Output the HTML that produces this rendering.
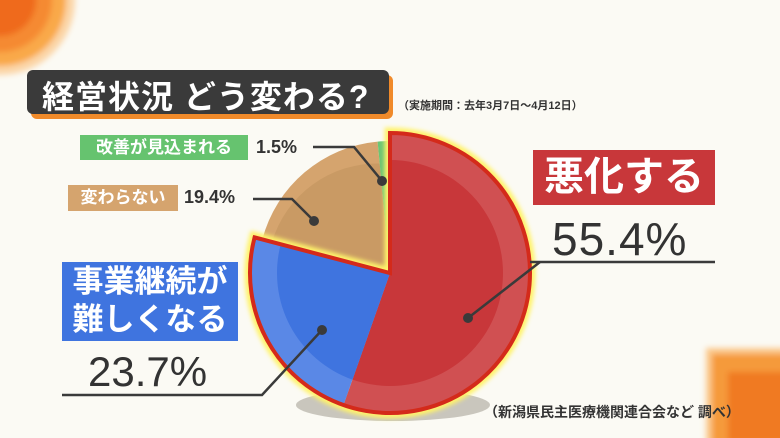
<!DOCTYPE html>
<html><head><meta charset="utf-8"><style>
body{margin:0;width:780px;height:438px;overflow:hidden;background:#fbfaf4;font-family:"Liberation Sans","Noto Sans CJK JP",sans-serif;position:relative}
.a{position:absolute;white-space:nowrap;font-weight:bold}
.box{position:absolute;color:#fff;font-weight:bold;text-align:center;white-space:nowrap}
</style></head><body>
<svg width="780" height="438" style="position:absolute;left:0;top:0">
<defs>
<filter id="gl"><feGaussianBlur stdDeviation="2"/></filter>
<filter id="bl"><feGaussianBlur stdDeviation="3"/></filter>
</defs>
<g filter="url(#bl)">
<circle cx="0" cy="0" r="75" fill="#fbd6a8"/>
<circle cx="0" cy="0" r="66" fill="#f9a94a"/>
<circle cx="0" cy="0" r="52" fill="#f58a30"/>
<circle cx="0" cy="0" r="36" fill="#ef6a1c"/>
<rect x="706" y="348" width="80" height="95" fill="#fbc88a"/>
<rect x="712" y="354" width="75" height="90" fill="#f59a3a"/>
<rect x="728" y="372" width="60" height="70" fill="#f07a22"/>
</g>
<ellipse cx="393" cy="405" rx="97" ry="16" fill="#c9c6bd"/>
<path d="M390,273 L262.3,239.5 A132,132 0 0,1 377.6,141.6 Z" fill="#d5a46e"/>
<path d="M390,273 L272,242 A110,110 0 0,1 379.7,163.5 Z" fill="#c99a64"/>
<path d="M390,273 L377.6,141.6 A132,132 0 0,1 390,141 Z" fill="#6cc573"/>
<path d="M390,273 L390,133 A140,140 0 1,1 254.6,237.4 Z" fill="none" stroke="#fff36a" stroke-width="11" filter="url(#gl)"/>
<path d="M390,273 L390,133 A140,140 0 1,1 343.5,405 Z" fill="#d05052"/>
<path d="M390,273 L390,160 A113,113 0 1,1 352.5,379.6 Z" fill="#c8373a"/>
<path d="M390,273 L343.5,405 A140,140 0 0,1 254.6,237.4 Z" fill="#5a88e6"/>
<path d="M390,273 L352.5,379.6 A113,113 0 0,1 280.7,244.3 Z" fill="#3f74df"/>
<path d="M390,273 L390,133 A140,140 0 1,1 254.6,237.4 Z" fill="none" stroke="#d42a1a" stroke-width="4"/>
<g stroke="#3a3a3a" stroke-width="2.5" fill="none">
<polyline points="313,147 354,147 382,181"/>
<polyline points="253,199 292,199 314,221"/>
<polyline points="530,262 715,262"/><polyline points="540,262 468,318"/>
<polyline points="62,395 262,395 322,330"/>
</g>
<g fill="#3a3a3a"><circle cx="382" cy="181" r="5"/><circle cx="314" cy="221" r="5"/><circle cx="468" cy="318" r="5"/><circle cx="322" cy="330" r="5"/></g>
<rect x="31" y="75" width="362" height="44" rx="6" fill="#f08a2a"/>
<rect x="27" y="70" width="362" height="44" rx="6" fill="#3a3a3a"/>
</svg>
<div class="a" style="left:42px;top:72px;font-size:32px;color:#fff;letter-spacing:1px">経営状況 どう変わる?</div>
<div class="a" style="left:398px;top:97px;font-size:11px;color:#333">（実施期間：去年3月7日～4月12日）</div>
<div class="box" style="left:80px;top:135px;width:168px;height:25px;background:#66c36f;font-size:17px;line-height:25px">改善が見込まれる</div>
<div class="a" style="left:256px;top:137px;font-size:18px;color:#333">1.5%</div>
<div class="box" style="left:68px;top:185px;width:110px;height:26px;background:#d5a46e;font-size:17px;line-height:26px">変わらない</div>
<div class="a" style="left:184px;top:187px;font-size:18px;color:#333">19.4%</div>
<div class="box" style="left:533px;top:150px;width:182px;height:55px;background:#c8373a;font-size:40px;line-height:55px">悪化する</div>
<div class="a" style="left:552px;top:212px;font-size:46px;color:#333;font-weight:normal;letter-spacing:1px">55.4%</div>
<div class="box" style="left:62px;top:262px;width:176px;height:78px;background:#3f74df;font-size:31px;line-height:38px;padding-top:1px">事業継続が<br>難しくなる</div>
<div class="a" style="left:88px;top:348px;font-size:42px;color:#333;font-weight:normal">23.7%</div>
<div class="a" style="left:484px;top:402px;font-size:14px;color:#333">（新潟県民主医療機関連合会など 調べ）</div>
</body></html>
